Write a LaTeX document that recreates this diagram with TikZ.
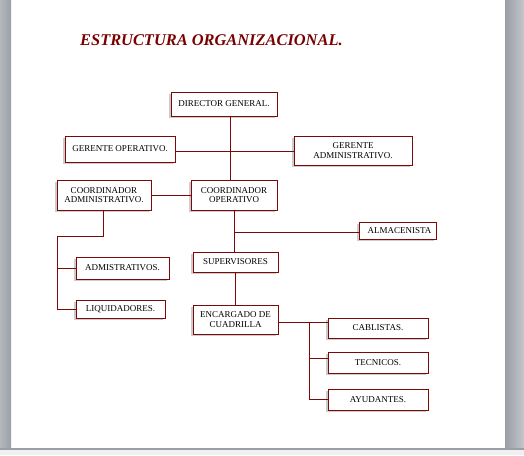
\documentclass[tikz,border=0pt]{standalone}
\usepackage{fontspec}
\setmainfont{Liberation Serif}
\usetikzlibrary{shadows,calc}
\definecolor{maroonline}{HTML}{7A0A0A}
\definecolor{titlered}{HTML}{7A0000}
\definecolor{sidegray}{HTML}{B4B8BE}
\definecolor{sidedark}{HTML}{9A9EA5}
\begin{document}
\begin{tikzpicture}[x=1pt,y=-1pt,
  box/.style={draw=maroonline, line width=0.95pt, fill=white, inner sep=1pt,
    align=center, font=\fontsize{9}{9.6}\selectfont,
    drop shadow={shadow xshift=-2pt, shadow yshift=-2pt, fill=gray!40, opacity=1}},
  conn/.style={draw=maroonline, line width=0.9pt}]
\useasboundingbox (0,0) rectangle (524,455);
% window background
\fill[white] (0,0) rectangle (524,455);
\shade[left color=sidegray, right color=sidedark] (0,0) rectangle (11,448);
\shade[left color=sidedark, right color=sidegray!80] (505,0) rectangle (524,448);
\fill[sidedark] (0,448) rectangle (524,449.5);
\fill[gray!12] (0,449.5) rectangle (524,455);
% title
\node[font=\fontsize{16.4}{18}\selectfont\bfseries\itshape, text=titlered, anchor=west, inner sep=0pt] (title) at (80,40) {ESTRUCTURA ORGANIZACIONAL.};
% boxes
\node[box, minimum width=106pt, minimum height=24pt] (dir) at (224,104) {DIRECTOR GENERAL.};
\node[box, minimum width=110pt, minimum height=26pt] (gop) at (120,149) {GERENTE OPERATIVO.};
\node[box, minimum width=118pt, minimum height=29pt] (gad) at (353,150.5) {GERENTE\\ADMINISTRATIVO.};
\node[box, minimum width=94pt, minimum height=30pt] (cad) at (104,195) {COORDINADOR\\ADMINISTRATIVO.};
\node[box, minimum width=86pt, minimum height=30pt] (cop) at (234,195) {COORDINADOR\\OPERATIVO};
\node[box, minimum width=77pt, minimum height=17pt] (alm) at (397.5,230.5) {\hspace*{4pt}ALMACENISTA};
\node[box, minimum width=85pt, minimum height=20pt] (sup) at (235.5,262) {SUPERVISORES};
\node[box, minimum width=93pt, minimum height=22pt] (adm) at (122.5,268) {ADMISTRATIVOS.};
\node[box, minimum width=89pt, minimum height=18pt] (liq) at (120.5,309) {LIQUIDADORES.};
\node[box, minimum width=85pt, minimum height=29pt] (enc) at (235.5,319.5) {ENCARGADO DE\\CUADRILLA};
\node[box, minimum width=100pt, minimum height=20pt] (cab) at (378,328) {CABLISTAS.};
\node[box, minimum width=100pt, minimum height=21pt] (tec) at (378,362.5) {TECNICOS.};
\node[box, minimum width=100pt, minimum height=21pt] (ayu) at (378,399.5) {AYUDANTES.};
% helper coordinates
\coordinate (spine) at (230,0);
\coordinate (a1) at (103,236);
\coordinate (a2) at (57,236);
\coordinate (b) at (309,0);
% connectors
\draw[conn] (dir.south -| spine) -- (cop.north -| spine);
\draw[conn] (gop.east) ++(0,2) -- ($(gad.west)+(0,0.5)$);
\draw[conn] (cad.east) -- (cop.west);
\draw[conn] (cad.south -| a1) -- (a1) -- (a2) -- (a2 |- liq.west) -- (liq.west);
\draw[conn] (a2 |- adm.west) -- (adm.west);
\draw[conn] (cop.south) -- (cop.south |- sup.north);
\draw[conn] (cop.south |- alm.west) ++(0,1.5) -- ($(alm.west)+(0,1.5)$);
\draw[conn] (sup.south) -- (sup.south |- enc.north);
\draw[conn] ($(enc.east)+(0,2.5)$) -- ($(enc.east -| cab.west)+(0,2.5)$);
\draw[conn] ($(enc.east -| b)+(0,2.5)$) -- (ayu.west -| b) -- (ayu.west);
\draw[conn] ($(tec.west -| b)+(0,-4)$) -- ($(tec.west)+(0,-4)$);
\end{tikzpicture}
\end{document}
